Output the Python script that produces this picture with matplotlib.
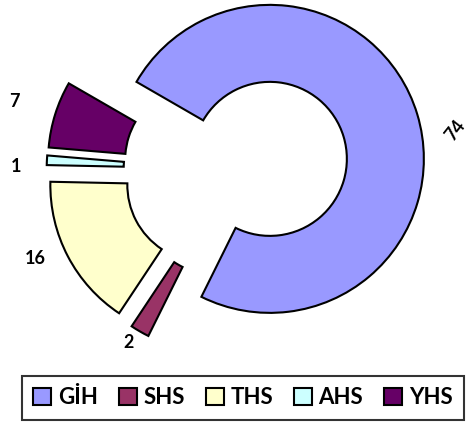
import numpy as np
import matplotlib.pyplot as plt

labels = ['GİH', 'SHS', 'THS', 'AHS', 'YHS']
values = [74, 2, 16, 1, 7]
colors = ['#9999FF', '#993366', '#FFFFCC', '#CCFFFF', '#660066']
explode = [0.25, 0.21, 0.21, 0.21, 0.21]
lab_dist = [1.22, 1.10, 1.20, 1.20, 1.28]
lab_shift = [-8, -1.5, -4, 2.5, 0]  # degrees, Excel "best fit" labels
lab_rot = [52, 0, 0, 0, 0]

plt.rcParams['font.family'] = ['Lato', 'DejaVu Sans']

fig = plt.figure(figsize=(4.74, 4.25), dpi=100)
ax = fig.add_axes([0, 0, 1, 1])
R = 154
# pie's explode is in data units, so scale by the radius
wedges, _ = ax.pie(values, colors=colors, explode=[e * R for e in explode],
                   startangle=150, counterclock=False, radius=R, center=(233, 255),
                   wedgeprops=dict(width=R * 0.5, edgecolor='black', linewidth=1.5))

for w, v, d, s, r in zip(wedges, values, lab_dist, lab_shift, lab_rot):
    mid = np.deg2rad((w.theta1 + w.theta2) / 2 + s)
    cx, cy = w.center
    ax.text(cx + R * d * np.cos(mid), cy + R * d * np.sin(mid), str(v),
            ha='center', va='center', fontsize=13, fontweight='bold', rotation=r)

ax.set_xlim(0, 474)
ax.set_ylim(0, 425)
ax.set_aspect('equal')
ax.axis('off')

leg = fig.legend(wedges, labels, loc='center', bbox_to_anchor=(243 / 474, 1 - 398 / 425),
                 ncol=5, frameon=True, fancybox=False, edgecolor='black',
                 prop=dict(weight='bold', size=16), handlelength=0.8, handleheight=0.8,
                 handletextpad=0.3, columnspacing=0.95, borderpad=0.5)
leg.get_frame().set_linewidth(1.5)

plt.savefig('out.png')
